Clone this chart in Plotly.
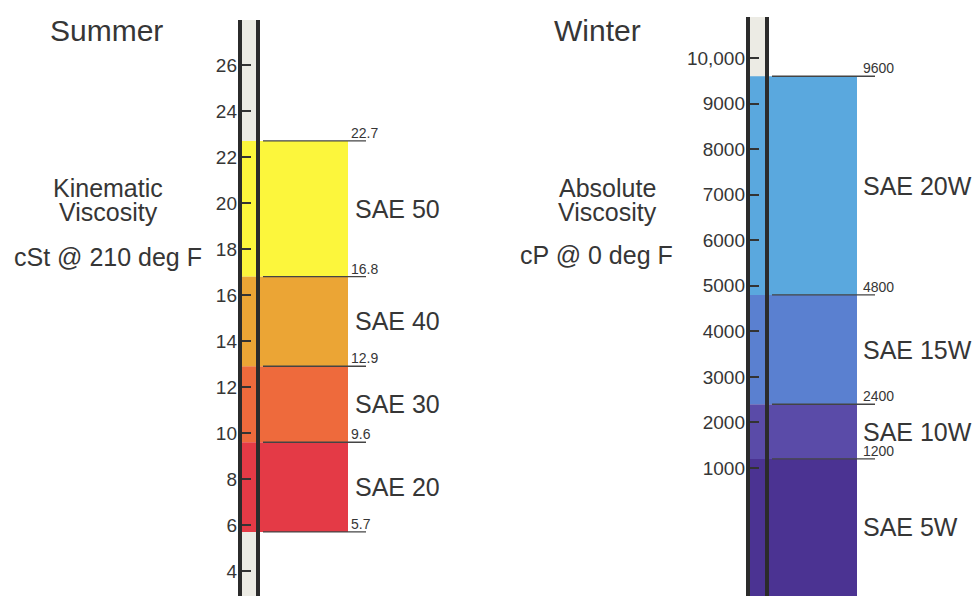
import plotly.graph_objects as go

# ---------------- data ----------------
summer_grades = ["SAE 20", "SAE 30", "SAE 40", "SAE 50"]
summer_low = [5.7, 9.6, 12.9, 16.8]
summer_high = [9.6, 12.9, 16.8, 22.7]
summer_colors = ["#e43a46", "#ee6a3c", "#eba535", "#fcf63c"]
summer_ticks = [4, 6, 8, 10, 12, 14, 16, 18, 20, 22, 24, 26]
summer_ticktext = ["4", "6", "8", "10", "12", "14", "16", "18", "20", "22", "24", "26"]
summer_marks = [5.7, 9.6, 12.9, 16.8, 22.7]
summer_marktext = ["5.7", "9.6", "12.9", "16.8", "22.7"]

winter_grades = ["SAE 5W", "SAE 10W", "SAE 15W", "SAE 20W"]
winter_low = [-1809, 1200, 2400, 4800]
winter_high = [1200, 2400, 4800, 9600]
winter_colors = ["#4b3392", "#5a4ba8", "#5a80d0", "#5aa8de"]
winter_ticks = [1000, 2000, 3000, 4000, 5000, 6000, 7000, 8000, 9000, 10000]
winter_ticktext = ["1000", "2000", "3000", "4000", "5000", "6000", "7000", "8000", "9000", "10,000"]
winter_marks = [1200, 2400, 4800, 9600]
winter_marktext = ["1200", "2400", "4800", "9600"]

# ---------------- layout constants ----------------
OFF = 8                      # page body margin in the browser
W, H = 980 - OFF, 596 - OFF
S_RANGE = [2.913, 28.478]
W_RANGE = [-1809, 11097]
TXT = "#363636"
FONT = "Liberation Sans, Arial, sans-serif"


def py2paper(py):
    return 1 - (py - OFF) / H


fig = go.Figure()

# bars
for lo, hi, c in zip(summer_low, summer_high, summer_colors):
    fig.add_trace(go.Bar(x=[294], y=[hi - lo], base=[lo], width=[108],
                         marker=dict(color=c, line=dict(width=0)),
                         yaxis="y", showlegend=False, hoverinfo="skip"))
for lo, hi, c in zip(winter_low, winter_high, winter_colors):
    fig.add_trace(go.Bar(x=[802.5], y=[hi - lo], base=[lo], width=[109],
                         marker=dict(color=c, line=dict(width=0)),
                         yaxis="y2", showlegend=False, hoverinfo="skip"))

# boundary lines
for v in summer_marks:
    fig.add_trace(go.Scatter(x=[263, 366], y=[v, v], mode="lines",
                             line=dict(color="#444", width=1.4), yaxis="y",
                             showlegend=False, hoverinfo="skip"))
for v in winter_marks:
    fig.add_trace(go.Scatter(x=[772, 875], y=[v, v], mode="lines",
                             line=dict(color="#444", width=1.4), yaxis="y2",
                             showlegend=False, hoverinfo="skip"))

ann = []
for v, t in zip(summer_marks, summer_marktext):
    ann.append(dict(x=349, y=v, xref="x", yref="y", text=t, showarrow=False,
                    xanchor="left", yanchor="bottom", yshift=-2,
                    font=dict(size=14, color=TXT, family=FONT)))
for v, t in zip(winter_marks, winter_marktext):
    ann.append(dict(x=861, y=v, xref="x", yref="y2", text=t, showarrow=False,
                    xanchor="left", yanchor="bottom", yshift=-2,
                    font=dict(size=14, color=TXT, family=FONT)))

# grade labels (centered in visible part of band)
for lo, hi, g in zip(summer_low, summer_high, summer_grades):
    ann.append(dict(x=353, y=(max(lo, S_RANGE[0]) + hi) / 2, xref="x", yref="y",
                    text=g, showarrow=False, xanchor="left", yanchor="middle",
                    font=dict(size=25, color=TXT, family=FONT)))
for lo, hi, g in zip(winter_low, winter_high, winter_grades):
    ann.append(dict(x=861, y=(max(lo, W_RANGE[0]) + hi) / 2, xref="x", yref="y2",
                    text=g, showarrow=False, xanchor="left", yanchor="middle",
                    font=dict(size=25, color=TXT, family=FONT)))


# titles
def txt(x, py, t, size):
    ann.append(dict(x=x, y=py2paper(py), xref="x", yref="paper", text=t,
                    showarrow=False, xanchor="center", yanchor="middle",
                    font=dict(size=size, color=TXT, family=FONT)))


txt(106, 30, "Summer", 30)
txt(597, 30, "Winter", 30)
txt(108, 188, "Kinematic", 25)
txt(108, 212, "Viscosity", 25)
txt(108, 257, "cSt @ 210 deg F", 25)
txt(607, 188, "Absolute", 25)
txt(607, 212, "Viscosity", 25)
txt(596, 255, "cP @ 0 deg F", 25)

# tube shapes
shapes = []
for x0, x1, top in [(240, 258, 20), (748, 767, 17)]:
    shapes.append(dict(type="rect", xref="x", yref="paper", x0=x0, x1=x1,
                       y0=0, y1=py2paper(top), fillcolor="#ecebe4",
                       line=dict(width=0), layer="below"))
    for xx in (x0, x1):
        shapes.append(dict(type="line", xref="x", yref="paper", x0=xx, x1=xx,
                           y0=0, y1=py2paper(top),
                           line=dict(color="#2b2b2b", width=4), layer="above"))

fig.update_layout(
    width=W, height=H,
    margin=dict(l=0, r=0, t=0, b=0),
    paper_bgcolor="white", plot_bgcolor="white",
    barmode="overlay",
    xaxis=dict(range=[OFF, 980], visible=False, fixedrange=True),
    yaxis=dict(range=S_RANGE, anchor="free", position=(240 - OFF) / W,
               tickmode="array", tickvals=summer_ticks, ticktext=summer_ticktext,
               ticks="inside", ticklen=10, tickwidth=2, tickcolor="#333",
               showgrid=False, zeroline=False, showline=False,
               tickfont=dict(size=19, color=TXT, family=FONT), ticklabelstandoff=3),
    yaxis2=dict(range=W_RANGE, anchor="free", position=(748 - OFF) / W, overlaying="y",
                tickmode="array", tickvals=winter_ticks, ticktext=winter_ticktext,
                ticks="inside", ticklen=10, tickwidth=2, tickcolor="#333",
                showgrid=False, zeroline=False, showline=False,
                tickfont=dict(size=19, color=TXT, family=FONT), ticklabelstandoff=3),
    annotations=ann,
    shapes=shapes,
)

fig.write_html("out.html")
